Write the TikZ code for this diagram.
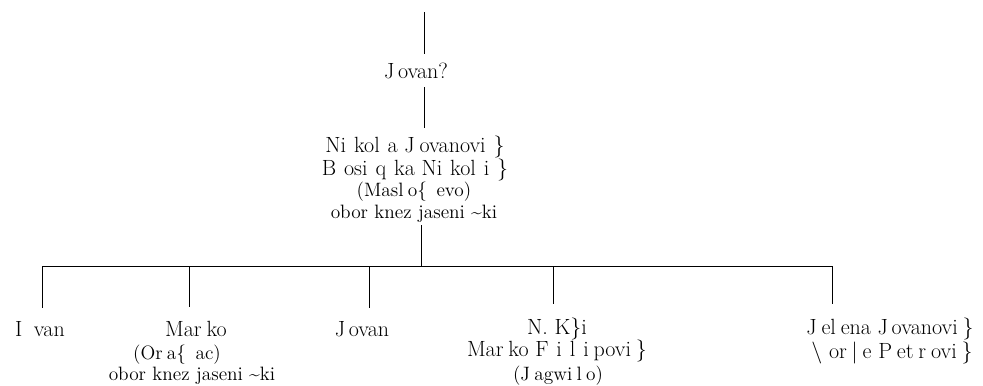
\documentclass[tikz,border=0pt]{standalone}
\usepackage{tikz}
\usetikzlibrary{positioning}

\newcommand\gp{\hspace{.22em}}
\newcommand\gpw{\hspace{.36em}}

\begin{document}
\begin{tikzpicture}[x=0.75pt, y=-0.75pt,
  every node/.style={inner sep=0pt, anchor=base},
  big/.style={font=\fontsize{16.5}{19}\selectfont},
  small/.style={font=\fontsize{14.5}{17}\selectfont},
  leaf/.style={big, outer ysep=10pt}]
  \useasboundingbox (0,0) rectangle (983,386);

  % root and its parent
  \coordinate (top) at (424,12);
  \node[big, outer ysep=6.5pt] (jov) at (416,78) {J\,ovan?};
  \node[big, outer ysep=6pt] (nik) at (415,152) {Ni\gpw kol\gpw a J\gp ovanovi\gpw\}};
  \node[big] (bos) at (415,175) {B\gpw osi\gpw q\gpw ka Ni\gpw kol\gpw i\gpw\}};
  \node[small] (mas) at (414,196) {(Masl\gp o\{\ \,evo)};
  \node[small, outer ysep=2.5pt] (obr) at (414,218) {obor knez jaseni\ \textasciitilde ki};

  \draw (top) -- (top |- jov.north);
  \draw (jov.south -| top) -- (top |- nik.north);

  % sibling bar
  \coordinate (h1) at (42,266);
  \coordinate (h2) at (189,266);
  \coordinate (h3) at (369,266);
  \coordinate (h4) at (553,266);
  \coordinate (h5) at (832,266);
  \draw (obr.south -| 421,0) -- (421,266);
  \draw (h1) -- (h5);

  % children
  \node[leaf] (ivan) at (40,336) {I\ \gp van};
  \node[leaf] (mar) at (196,336) {Mar\gp ko};
  \node[small] (ora) at (177,359) {(Or\gp a\{\ \,ac)};
  \node[small] (ob2) at (192,380) {obor knez jaseni\ \textasciitilde ki};
  \node[leaf] (jo2) at (362,336) {J\,ovan};
  \node[leaf] (nk) at (557,334) {N. K\}i};
  \node[big] (mf) at (557,356) {Mar\gp ko F\gpw i\gpw l\gpw i\gp povi\gp\}};
  \node[small] (jag) at (558,380) {(J\gp agwi\gp l\gp o)};
  \node[leaf] (jel) at (890,334) {J\gp el\gp ena J\,ovanovi\gp\}};
  \node[big] (djo) at (892,358) {\textbackslash\ or\gp |\gp e P\gp et\gp r\gp ovi\gp\}};

  \draw (h1) -- (h1 |- ivan.north);
  \draw (h2) -- (h2 |- mar.north);
  \draw (h3) -- (h3 |- jo2.north);
  \draw (h4) -- (h4 |- nk.north);
  \draw (h5) -- (h5 |- jel.north);
\end{tikzpicture}
\end{document}
